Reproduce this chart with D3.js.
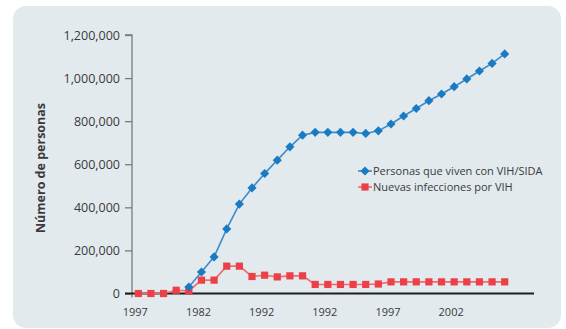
<!DOCTYPE html>
<html>
<head>
<meta charset="utf-8">
<script src="https://cdn.jsdelivr.net/npm/d3@7"></script>
<style>
  html, body { margin: 0; padding: 0; background: #ffffff; }
  svg { display: block; }
  text { font-family: "Open Sans", "Noto Sans", sans-serif; fill: #3a3a3a; }
</style>
</head>
<body>
<svg id="chart" width="566" height="329"></svg>
<script>
// Years shown on the x axis (one point per year)
const years = [1977, 1978, 1979, 1980, 1981, 1982, 1983, 1984, 1985, 1986,
               1987, 1988, 1989, 1990, 1991, 1992, 1993, 1994, 1995, 1996,
               1997, 1998, 1999, 2000, 2001, 2002, 2003, 2004, 2005, 2006];

// People living with HIV/AIDS (series starts in 1981)
const personasVIH = [null, null, null, null, 30000, 100000, 170000, 300000, 415000, 490000,
                     557000, 619000, 681000, 735000, 748000, 748000, 748000, 748000, 743000, 755000,
                     787000, 824000, 859000, 895000, 926000, 960000, 996000, 1033000, 1068000, 1112000];

// New HIV infections per year
const nuevasInfecciones = [0, 0, 0, 15000, 12000, 62000, 62000, 127000, 127000, 79000,
                           85000, 77000, 82000, 82000, 42000, 42000, 42000, 42000, 42000, 44000,
                           54000, 54000, 54000, 54000, 54000, 54000, 54000, 54000, 54000, 54000];

// Axis ticks
const yTicks = [0, 200000, 400000, 600000, 800000, 1000000, 1200000];
const xTickYears = [1977, 1982, 1987, 1992, 1997, 2002];
const xTickLabels = ["1997", "1982", "1992", "1992", "1997", "2002"];

const seriesNames = ["Personas que viven con VIH/SIDA", "Nuevas infecciones por VIH"];

const svg = d3.select("#chart");

// Background panel
svg.append("rect")
  .attr("x", 13).attr("y", 6)
  .attr("width", 548).attr("height", 322)
  .attr("rx", 13).attr("ry", 13)
  .attr("fill", "#e2eaee");

const x = d3.scaleLinear().domain([1977, 2006]).range([138.3, 504.7]);
const y = d3.scaleLinear().domain([0, 1200000]).range([293.5, 35]);

// Y axis
const yAxis = d3.axisLeft(y)
  .tickValues(yTicks)
  .tickSize(7)
  .tickPadding(5)
  .tickFormat(d3.format(","));

const gy = svg.append("g")
  .attr("transform", "translate(132,0)")
  .call(yAxis);
gy.select(".domain").attr("stroke", "#7a7a7a").attr("stroke-width", 1.3)
  .attr("d", `M-7,${y(1200000)}H0V${y(0) + 4}`);
gy.selectAll(".tick line").attr("stroke", "#7a7a7a").attr("stroke-width", 1.3);
gy.selectAll(".tick text")
  .attr("font-size", 12.5)
  .attr("fill", "#3a3a3a")
  .style("font-family", '"Open Sans", "Noto Sans", sans-serif');

// X axis baseline
svg.append("line")
  .attr("x1", 125).attr("x2", 534)
  .attr("y1", y(0)).attr("y2", y(0))
  .attr("stroke", "#1e1e1e").attr("stroke-width", 2);

// X tick labels
svg.append("g").selectAll("text")
  .data(xTickYears)
  .join("text")
  .attr("x", d => x(d) - 3)
  .attr("y", 316)
  .attr("text-anchor", "middle")
  .attr("font-size", 11)
  .text((d, i) => xTickLabels[i]);

// Y axis title
svg.append("text")
  .attr("transform", "translate(45,168) rotate(-90)")
  .attr("text-anchor", "middle")
  .attr("font-size", 12.5)
  .attr("font-weight", "bold")
  .attr("fill", "#1e1e1e")
  .text("Número de personas");

const blue = "#1a7bc3";
const blueLine = "#3a8ccc";
const red = "#ec4049";
const redLine = "#f06a6f";

function drawSeries(values, lineColor, markColor, shape) {
  const pts = years.map((yr, i) => ({ yr, v: values[i] })).filter(d => d.v !== null);
  const line = d3.line().x(d => x(d.yr)).y(d => y(d.v));
  svg.append("path")
    .datum(pts)
    .attr("fill", "none")
    .attr("stroke", lineColor)
    .attr("stroke-width", 1.6)
    .attr("d", line);
  const g = svg.append("g");
  if (shape === "diamond") {
    g.selectAll("path").data(pts).join("path")
      .attr("d", d3.symbol().type(d3.symbolSquare).size(42))
      .attr("transform", d => `translate(${x(d.yr)},${y(d.v)}) rotate(45)`)
      .attr("fill", markColor);
  } else {
    g.selectAll("rect").data(pts).join("rect")
      .attr("x", d => x(d.yr) - 3.6).attr("y", d => y(d.v) - 3.6)
      .attr("width", 7.2).attr("height", 7.2)
      .attr("fill", markColor);
  }
}

drawSeries(nuevasInfecciones, redLine, red, "square");
drawSeries(personasVIH, blueLine, blue, "diamond");

// Legend
const legend = svg.append("g").attr("transform", "translate(358,171)");
legend.append("line").attr("x1", 0).attr("x2", 14).attr("y1", 0).attr("y2", 0)
  .attr("stroke", blueLine).attr("stroke-width", 1.6);
legend.append("path")
  .attr("d", d3.symbol().type(d3.symbolSquare).size(42))
  .attr("transform", "translate(7,0) rotate(45)")
  .attr("fill", blue);
legend.append("text").attr("x", 15).attr("y", 3.8).attr("font-size", 11).text(seriesNames[0]);

legend.append("line").attr("x1", 0).attr("x2", 14).attr("y1", 16).attr("y2", 16)
  .attr("stroke", redLine).attr("stroke-width", 1.6);
legend.append("rect").attr("x", 3.4).attr("y", 12.4).attr("width", 7.2).attr("height", 7.2)
  .attr("fill", red);
legend.append("text").attr("x", 15).attr("y", 19.8).attr("font-size", 11).text(seriesNames[1]);
</script>
</body>
</html>
